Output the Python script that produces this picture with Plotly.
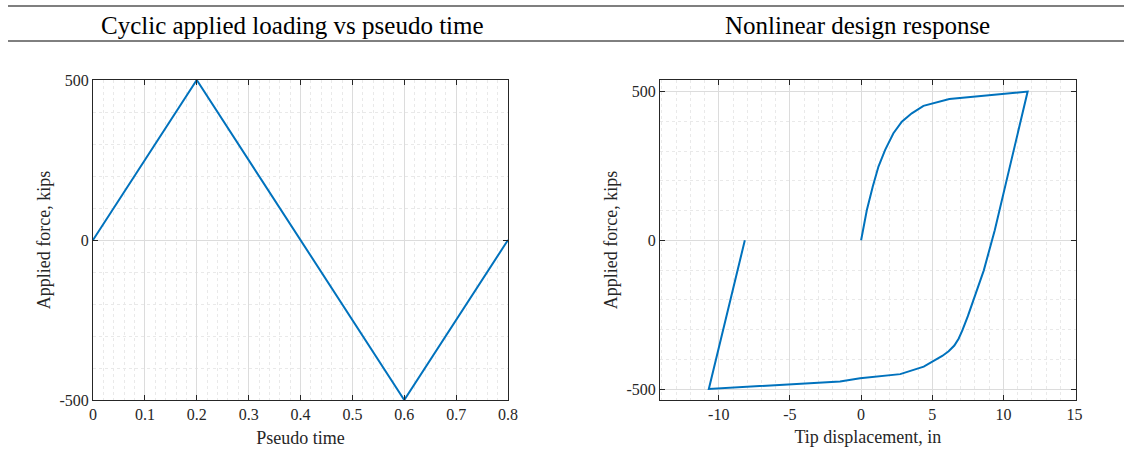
import plotly.graph_objects as go

# ---------------- data ----------------
pseudo_time = [0.0, 0.2, 0.6, 0.8]
applied_force_time = [0, 500, -500, 0]

tip_disp = [0.0, 0.4, 0.82, 1.22, 1.69, 2.27, 2.86, 3.56, 4.38, 6.2, 11.7,
            9.39, 8.62, 7.92, 7.5, 7.12, 6.86, 6.55, 6.15, 5.7, 4.85, 4.4, 2.75,
            -0.07, -1.48, -10.7, -8.17]
applied_force_disp = [0, 101, 181, 248, 304, 360, 399, 427, 452, 475, 500,
                      34, -101, -201, -255, -302, -330, -354, -373, -389, -411, -425, -450,
                      -464, -475, -500, 0]

x1_tickvals = [0, 0.1, 0.2, 0.3, 0.4, 0.5, 0.6, 0.7, 0.8]
x1_ticktext = ["0", "0.1", "0.2", "0.3", "0.4", "0.5", "0.6", "0.7", "0.8"]
y_tickvals = [-500, 0, 500]
y_ticktext = ["-500", "0", "500"]
x2_tickvals = [-10, -5, 0, 5, 10, 15]
x2_ticktext = ["-10", "-5", "0", "5", "10", "15"]

title_left = "Cyclic applied loading vs pseudo time"
title_right = "Nonlinear design response"

W, H = 1132, 452
SERIF = "Liberation Serif, Times New Roman, serif"
AX = "#262626"
LINE = "#0072BD"

def px_x(p):
    return p / W

def px_y(p):
    return 1 - p / H

fig = go.Figure()
fig.add_trace(go.Scatter(x=pseudo_time, y=applied_force_time, mode="lines",
                         line=dict(color=LINE, width=2), xaxis="x", yaxis="y",
                         showlegend=False, hoverinfo="skip"))
fig.add_trace(go.Scatter(x=tip_disp, y=applied_force_disp, mode="lines",
                         line=dict(color=LINE, width=2), xaxis="x2", yaxis="y2",
                         showlegend=False, hoverinfo="skip"))

def axis(**kw):
    d = dict(showline=True, linecolor=AX, linewidth=1, mirror="ticks",
             ticks="inside", ticklen=5, tickcolor=AX, tickwidth=1,
             showgrid=True, gridcolor="#dcdcdc", gridwidth=1, zeroline=False,
             tickfont=dict(family=SERIF, size=16, color=AX),
             title_font=dict(family=SERIF, size=18, color=AX),
             automargin=False, fixedrange=True)
    d.update(kw)
    return d

ydom = [px_y(400), px_y(80)]
minor_grid = dict(showgrid=True, griddash="dot", gridcolor="#e9e9e9", ticks="")

fig.update_layout(
    width=W, height=H,
    margin=dict(l=0, r=0, t=0, b=0, autoexpand=False),
    paper_bgcolor="white", plot_bgcolor="white",
    xaxis=axis(domain=[px_x(93), px_x(508)], range=[0, 0.8], anchor="y",
               tickmode="array", tickvals=x1_tickvals, ticktext=x1_ticktext,
               minor=dict(tickmode="linear", tick0=0, dtick=0.02, **minor_grid),
               title=dict(text="Pseudo time", standoff=9)),
    yaxis=axis(domain=ydom, range=[-500, 500], anchor="x",
               tickmode="array", tickvals=y_tickvals, ticktext=y_ticktext,
               minor=dict(tickmode="linear", tick0=0, dtick=100, **minor_grid),
               title=dict(text="Applied force, kips", standoff=4)),
    xaxis2=axis(domain=[px_x(660), px_x(1075.6)], range=[-14.13, 15.07], anchor="y2",
                tickmode="array", tickvals=x2_tickvals, ticktext=x2_ticktext,
                minor=dict(tickmode="linear", tick0=0, dtick=1, **minor_grid),
                title=dict(text="Tip displacement, in", standoff=8)),
    yaxis2=axis(domain=ydom, range=[-537, 539], anchor="x2",
                tickmode="array", tickvals=y_tickvals, ticktext=y_ticktext,
                minor=dict(tickmode="linear", tick0=0, dtick=100, **minor_grid),
                title=dict(text="Applied force, kips", standoff=4)),
    annotations=[
        dict(text=title_left, xref="paper", yref="paper", x=px_x(292), y=px_y(26),
             xanchor="center", yanchor="middle", showarrow=False,
             font=dict(family=SERIF, size=25, color="black")),
        dict(text=title_right, xref="paper", yref="paper", x=px_x(858), y=px_y(26),
             xanchor="center", yanchor="middle", showarrow=False,
             font=dict(family=SERIF, size=25, color="black")),
    ],
    shapes=[
        dict(type="line", xref="paper", yref="paper", x0=px_x(8), x1=px_x(1124),
             y0=px_y(6), y1=px_y(6), line=dict(color="#555555", width=1.5)),
        dict(type="line", xref="paper", yref="paper", x0=px_x(8), x1=px_x(1124),
             y0=px_y(41), y1=px_y(41), line=dict(color="black", width=1)),
    ],
)

fig.write_html("out.html",
               config={"displayModeBar": False, "staticPlot": True},
               post_script="document.body.style.margin='0';document.body.style.padding='0';")
